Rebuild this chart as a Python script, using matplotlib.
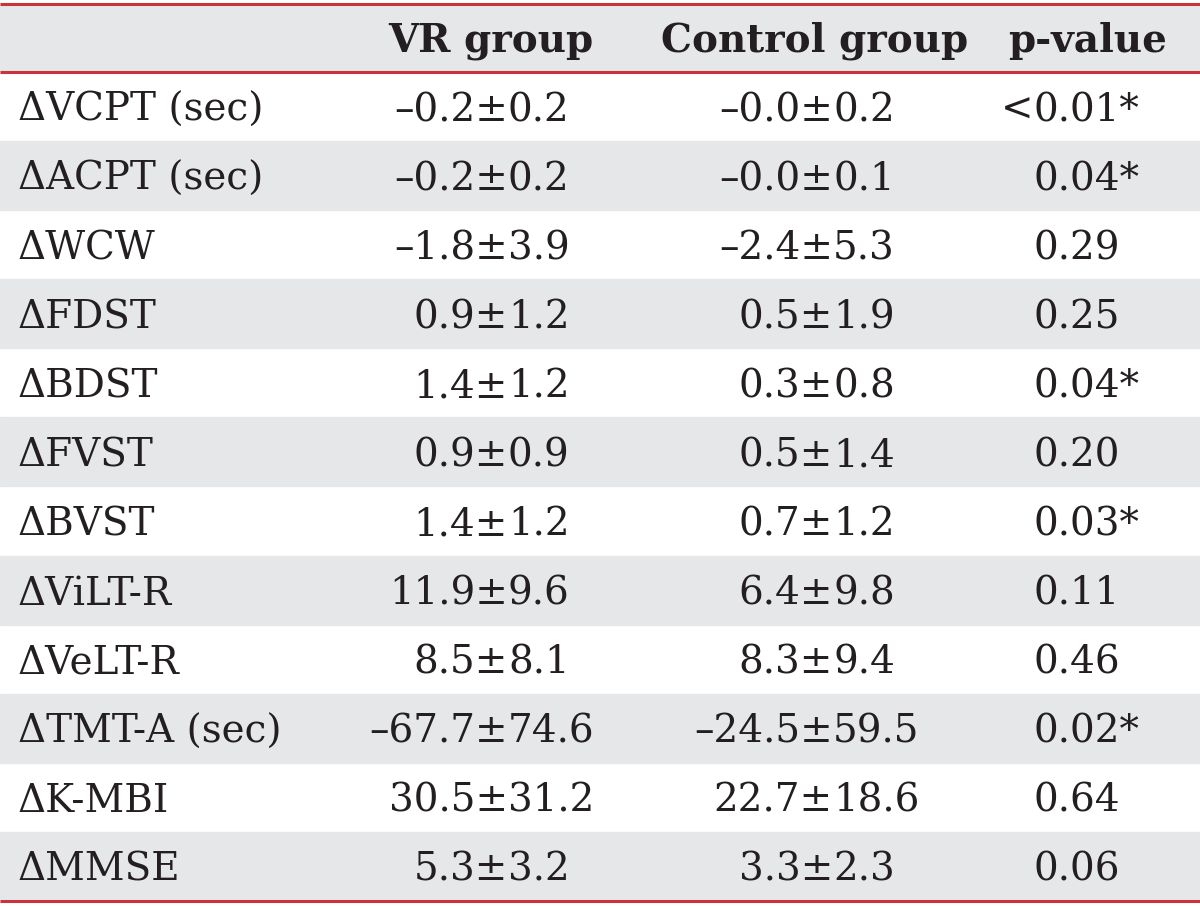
import matplotlib.pyplot as plt
from matplotlib.patches import Rectangle

plt.rcParams['font.family'] = ['DejaVu Serif']

measures = ['ΔVCPT (sec)', 'ΔACPT (sec)', 'ΔWCW', 'ΔFDST', 'ΔBDST', 'ΔFVST',
            'ΔBVST', 'ΔViLT-R', 'ΔVeLT-R', 'ΔTMT-A (sec)', 'ΔK-MBI', 'ΔMMSE']
vr_group = ['–0.2±0.2', '–0.2±0.2', '–1.8±3.9', '0.9±1.2', '1.4±1.2', '0.9±0.9',
            '1.4±1.2', '11.9±9.6', '8.5±8.1', '–67.7±74.6', '30.5±31.2', '5.3±3.2']
control_group = ['–0.0±0.2', '–0.0±0.1', '–2.4±5.3', '0.5±1.9', '0.3±0.8', '0.5±1.4',
                 '0.7±1.2', '6.4±9.8', '8.3±9.4', '–24.5±59.5', '22.7±18.6', '3.3±2.3']
p_values = ['<0.01*', '0.04*', '0.29', '0.25', '0.04*', '0.20',
            '0.03*', '0.11', '0.46', '0.02*', '0.64', '0.06']
headers = ['VR group', 'Control group', 'p-value']

W, H = 1200, 906
fig = plt.figure(figsize=(W / 100, H / 100), dpi=100)
ax = fig.add_axes([0, 0, 1, 1])
ax.set_xlim(0, W)
ax.set_ylim(H, 0)
ax.axis('off')

grey = '#e6e7e9'
red = '#c9343c'
ink = '#231f20'
fs = 28

top, head_bot, bottom = 4, 72, 901
row_h = (bottom - head_bot) / len(measures)

# header
ax.add_patch(Rectangle((0, top), W, head_bot - top, color=grey, zorder=0))
for txt, x in zip(headers, [491, 815, 1088]):
    ax.text(x, (top + head_bot) / 2 + 3, txt, ha='center', va='center',
            fontsize=fs, fontweight='bold', color=ink)

# columns lined up on the ± sign
pm_x = [508, 833]
for i, m in enumerate(measures):
    y0 = head_bot + i * row_h
    yc = y0 + row_h / 2 + 4
    if i % 2 == 1:
        ax.add_patch(Rectangle((0, y0), W, row_h, color=grey, zorder=0))
    ax.text(18, yc, m, ha='left', va='center', fontsize=fs, color=ink)
    for col, xp in zip([vr_group[i], control_group[i]], pm_x):
        left, right = col.split('±')
        ax.text(xp, yc, left + '±', ha='right', va='center', fontsize=fs, color=ink)
        ax.text(xp, yc, right, ha='left', va='center', fontsize=fs, color=ink)
    p = p_values[i]
    if p.startswith('<'):
        ax.text(1033, yc, '<', ha='right', va='center', fontsize=fs, color=ink)
        p = p[1:]
    ax.text(1033, yc, p, ha='left', va='center', fontsize=fs, color=ink)

for y in [top, head_bot, bottom]:
    ax.plot([0, W], [y, y], color=red, lw=2.2, solid_capstyle='butt')

fig.savefig('out.png', dpi=100)
